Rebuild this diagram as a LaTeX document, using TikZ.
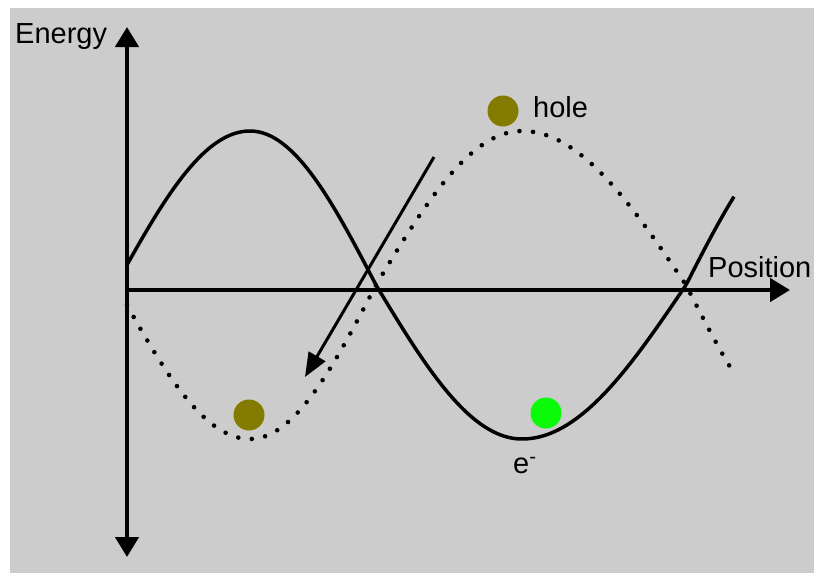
\documentclass[tikz,border=0pt]{standalone}
\usepackage{fontspec}
\setmainfont{Liberation Sans}
\usetikzlibrary{arrows.meta}
\definecolor{bg}{RGB}{204,204,204}
\definecolor{olivedot}{RGB}{132,124,0}
\definecolor{greendot}{RGB}{10,250,10}
\begin{document}
\begin{tikzpicture}[x=1pt,y=-1pt,
  declare function={ph(\t)=(\t<250) ? (7.5+(\t-127)/123*82.5) : ((\t<376) ? (90+(\t-250)/126*90) : ((\t<522) ? (180+(\t-376)/146*90) : ((\t<686) ? (270+(\t-522)/164*90) : (360+(\t-686)/48*35))));},
  axhead/.tip={Triangle[length=20pt,width=23pt]},
  trhead/.tip={Triangle[length=24pt,width=19pt]},
  axisline/.style={line width=4.5pt},
  solidcurve/.style={line width=3.5pt},
  dotcurve/.style={line width=4.6pt, line cap=round, dash pattern=on 0pt off 13.6pt},
  ball/.style={circle, inner sep=0pt, minimum size=31pt},
  lbl/.style={inner sep=0pt, font=\fontsize{29}{34}\selectfont}]
\useasboundingbox (0,0) rectangle (814,573);
\fill[bg] (10,8) rectangle (814,573);
% curves
\draw[solidcurve] plot[domain=127:734, samples=300, variable=\x] (\x, {285-154*sin(ph(\x))});
\draw[dotcurve] plot[domain=127:733, samples=300, variable=\x] (\x, {285+154*sin(ph(\x))});
% axes
\coordinate (origin) at (127,290);
\coordinate (ytop) at (127,27);
\coordinate (ybot) at (127,557);
\coordinate (xend) at (790,290);
\draw[axisline, axhead-axhead] (ybot) -- (ytop);
\draw[axisline, -axhead] (origin) -- (xend);
% transition arrow
\coordinate (tstart) at (434,157);
\coordinate (tend) at (305,377);
\draw[line width=3pt, -trhead] (tstart) -- (tend);
% balls
\node[ball, fill=olivedot] (holeball) at (503,111) {};
\node[ball, fill=olivedot] (lowball) at (249,415) {};
\node[ball, fill=greendot] (elball) at (546,413) {};
% labels
\node[lbl, anchor=base west] (energy) at (15,43) {Energy};
\node[lbl, anchor=base west] (position) at (708,277) {Position};
\node[lbl, anchor=base west] (hole) at (533,117) {hole};
\node[lbl, anchor=base west] (electron) at (513,473) {e\textsuperscript{-}};
\end{tikzpicture}
\end{document}
